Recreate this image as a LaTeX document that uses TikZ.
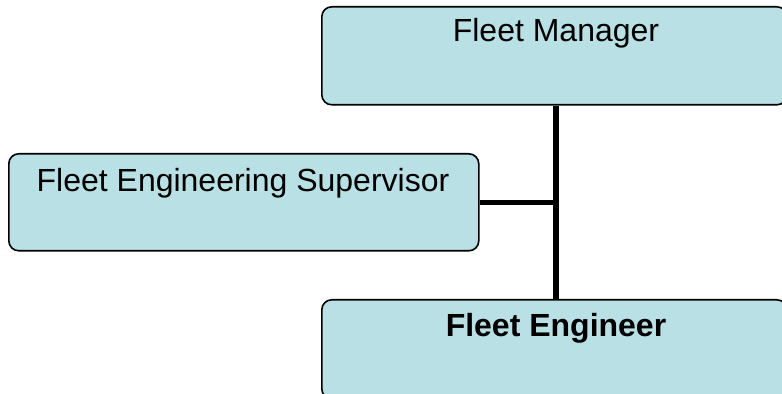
\documentclass[tikz,border=0pt]{standalone}
\usepackage{fontspec}
\setmainfont{Liberation Sans}
\usepackage{tikz}
\usetikzlibrary{positioning}
\definecolor{boxblue}{RGB}{185,224,228}

\begin{document}
\begin{tikzpicture}[x=0.5pt,y=-0.5pt,
  box/.style={draw=black,line width=0.8pt,fill=boxblue,rounded corners=5pt,
    anchor=north west,minimum width=232.5pt,minimum height=49pt,inner sep=0pt},
  lbl/.style={font=\fontsize{16}{19}\selectfont,inner sep=0pt,anchor=base},
  conn/.style={line width=2.6pt}]
 \useasboundingbox (0,0) rectangle (782,394);
 \clip (0,0) rectangle (782,394);
 % boxes
 \node[box] (fm) at (321,6) {};
 \node[box,minimum width=235pt,minimum height=48.5pt] (fes) at (8,153) {};
 \node[box,minimum height=49.5pt] (fe) at (321,299) {};
 % texts
 \node[lbl] (fmtext) at (556,42) {Fleet Manager};
 \node[lbl] (festext) at (243,192) {Fleet Engineering Supervisor};
 \node[lbl,font=\fontsize{16}{19}\selectfont\bfseries] (fetext) at (556,337) {Fleet Engineer};
 % connectors
 \draw[conn] (fmtext |- fm.south) -- (fmtext |- fe.north);
 \draw[conn] (fes.east) -- (fes.east -| fmtext);
\end{tikzpicture}
\end{document}
